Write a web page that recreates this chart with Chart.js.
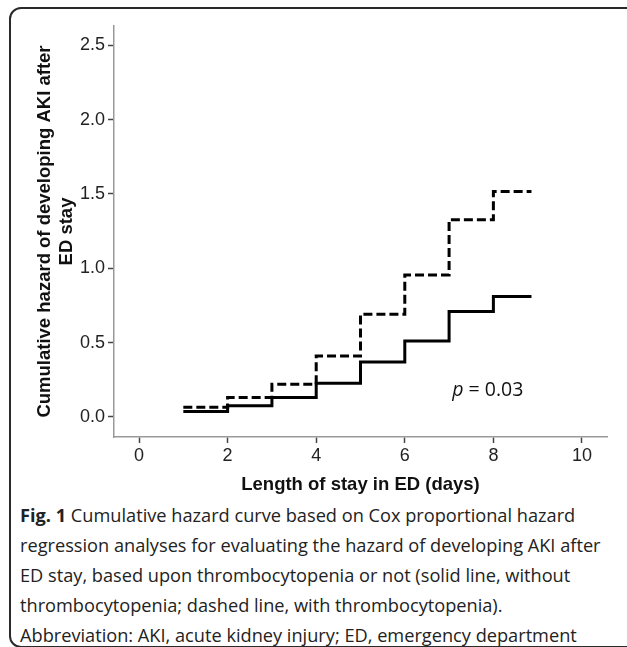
<!DOCTYPE html>
<html lang="en">
<head>
    <meta charset="utf-8">
    <title>Cumulative hazard curve</title>
    <script src="https://cdn.jsdelivr.net/npm/chart.js@4.4.1/dist/chart.umd.min.js"></script>
    <style>
        body { margin: 0; background: #fff; width: 627px; height: 647px; overflow: hidden; position: relative; }
        #frame { position: absolute; left: 9px; top: 7px; width: 700px; height: 637px; border: 2px solid #2a2a2a; border-radius: 12px; }
        #chart { position: absolute; left: 0; top: 0; }
        #caption { position: absolute; left: 20px; top: 500px; width: 600px; font-family: "Open Sans", sans-serif; font-size: 18.2px; line-height: 30px; color: #222; }
        #caption b { font-weight: 700; }
    </style>
</head>
<body>
    <div id="frame"></div>
    <canvas id="chart" width="627" height="500"></canvas>
    <div id="caption"><b>Fig. 1</b> Cumulative hazard curve based on Cox proportional hazard regression analyses for evaluating the hazard of developing AKI after ED stay, based upon thrombocytopenia or not (solid line, without thrombocytopenia; dashed line, with thrombocytopenia). Abbreviation: AKI, acute kidney injury; ED, emergency department</div>
    <script>
        // step times (days) and cumulative hazard
        const days = [1, 2, 3, 4, 5, 6, 7, 8, 8.86];
        const withoutThrombo = [0.036, 0.076, 0.13, 0.227, 0.37, 0.51, 0.71, 0.81, 0.81];
        const withThrombo = [0.065, 0.13, 0.22, 0.41, 0.69, 0.955, 1.326, 1.516, 1.516];
        const xTicks = [0, 2, 4, 6, 8, 10];
        const yTicks = [0, 0.5, 1.0, 1.5, 2.0, 2.5];
        const pLabel = { x: 7.07, y: 0.177, text: '= 0.03' };

        const axisFont = 'Arial, "Liberation Sans", sans-serif';

        function toPoints(ys) {
            return days.map((d, i) => ({ x: d, y: ys[i] }));
        }

        const pValuePlugin = {
            id: 'pValue',
            afterDatasetsDraw(chart) {
                const ctx = chart.ctx;
                const px = chart.scales.x.getPixelForValue(pLabel.x);
                const py = chart.scales.y.getPixelForValue(pLabel.y);
                ctx.save();
                ctx.fillStyle = '#111';
                ctx.textBaseline = 'middle';
                ctx.font = 'italic 19.5px "Open Sans", sans-serif';
                ctx.fillText('p', px, py);
                const w = ctx.measureText('p ').width;
                ctx.font = '19.5px "Open Sans", sans-serif';
                ctx.fillText(pLabel.text, px + w, py);
                ctx.restore();
            }
        };

        const ctx = document.getElementById('chart').getContext('2d');
        const myChart = new Chart(ctx, {
            type: 'line',
            data: {
                datasets: [{
                    label: 'without thrombocytopenia',
                    data: toPoints(withoutThrombo),
                    borderColor: '#000',
                    borderWidth: 3,
                    stepped: 'before',
                    pointRadius: 0,
                    fill: false
                }, {
                    label: 'with thrombocytopenia',
                    data: toPoints(withThrombo),
                    borderColor: '#000',
                    borderWidth: 3,
                    borderDash: [9, 4],
                    stepped: 'before',
                    pointRadius: 0,
                    fill: false
                }]
            },
            options: {
                responsive: false,
                animation: false,
                devicePixelRatio: 1,
                layout: { padding: { top: 26, right: 20, left: 0, bottom: 0 } },
                plugins: {
                    legend: { display: false },
                    tooltip: { enabled: false }
                },
                scales: {
                    x: {
                        type: 'linear',
                        min: -0.565,
                        max: 10.565,
                        afterFit: s => { s.height = 63; },
                        afterBuildTicks: s => { s.ticks = xTicks.map(v => ({ value: v })); },
                        border: { display: true, color: '#999', width: 1.5 },
                        grid: { drawOnChartArea: false, drawTicks: true, tickLength: 6, color: '#444', tickWidth: 1.5 },
                        ticks: {
                            padding: 2,
                            color: '#222',
                            font: { family: axisFont, size: 18 },
                            maxRotation: 0,
                            callback: v => String(v)
                        },
                        title: {
                            display: true,
                            text: 'Length of stay in ED (days)',
                            color: '#111',
                            font: { family: axisFont, size: 18.5, weight: 'bold' },
                            padding: { top: 0, bottom: 4 }
                        }
                    },
                    y: {
                        min: -0.135,
                        max: 2.63,
                        afterFit: s => { s.width = 114; },
                        afterBuildTicks: s => { s.ticks = yTicks.map(v => ({ value: v })); },
                        border: { display: true, color: '#999', width: 1.5 },
                        grid: { drawOnChartArea: false, drawTicks: true, tickLength: 6, color: '#444', tickWidth: 1.5 },
                        ticks: {
                            padding: 3,
                            color: '#222',
                            font: { family: axisFont, size: 18 },
                            callback: v => v.toFixed(1)
                        },
                        title: {
                            display: true,
                            text: ['Cumulative hazard of developing AKI after', 'ED stay'],
                            color: '#111',
                            font: { family: axisFont, size: 18.5, weight: 'bold', lineHeight: 1.2 },
                            padding: { top: 34, bottom: 0 }
                        }
                    }
                }
            },
            plugins: [pValuePlugin]
        });
    </script>
</body>
</html>
